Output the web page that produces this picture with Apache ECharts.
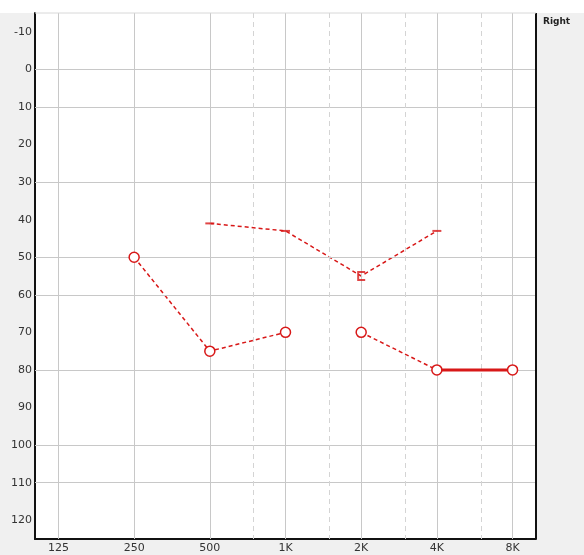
<!DOCTYPE html>
<html><head><meta charset="utf-8">
<script src="https://cdn.jsdelivr.net/npm/echarts@6/dist/echarts.min.js"></script>
<style>html,body{margin:0;padding:0;background:#fff}#c{width:584px;height:555px}</style>
</head><body><div id="c"></div>
<script>
const freqTicks = [125, 250, 500, 1000, 2000, 4000, 8000];
const freqTickLabels = ['125', '250', '500', '1K', '2K', '4K', '8K'];
const halfFreqs = [750, 1500, 3000, 6000];
const dbTicks = [-10, 0, 10, 20, 30, 40, 50, 60, 70, 80, 90, 100, 110, 120];
const dbGridLines = [0, 10, 30, 50, 60, 80, 100, 110];

const acFreq = [250, 500, 1000, 2000, 4000, 8000];
const acDb = [50, 75, 70, 70, 80, 80];
const bcFreq = [500, 1000, 2000, 4000];
const bcDb = [41, 43, 55, 43];
const earLabel = 'Right';

const oct = f => Math.log2(f / 125);
const RED = '#d81818';

const acPts = acFreq.map((f, i) => [oct(f), acDb[i]]);
const bcPts = bcFreq.map((f, i) => [oct(f), bcDb[i]]);
const acDashed = [acPts[0], acPts[1], acPts[2], '-', acPts[3], acPts[4]];
const acSolid = [acPts[4], acPts[5]];

const dash = 'path://M0,0 L10,0 L10,2 L0,2 Z';
const bracket = 'path://M0,0 L8,0 L8,2 L2,2 L2,8 L8,8 L8,10 L0,10 Z';
const bcSymbols = [dash, dash, bracket, dash];

const gridMark = {
  silent: true, symbol: 'none', label: { show: false }, animation: false,
  data: [].concat(
    dbGridLines.map(v => ({ yAxis: v, lineStyle: { color: '#c8c8c8', width: 1, type: 'solid' } })),
    freqTicks.map(f => ({ xAxis: oct(f), lineStyle: { color: '#c8c8c8', width: 1, type: 'solid' } })),
    halfFreqs.map(f => ({ xAxis: oct(f), lineStyle: { color: '#d4d4d4', width: 1, type: [5, 4] } }))
  )
};

const chart = echarts.init(document.getElementById('c'), null, { renderer: 'canvas' });
chart.setOption({
  animation: false,
  backgroundColor: '#ffffff',
  graphic: [
    { type: 'rect', z: -10, shape: { x: 0, y: 13, width: 584, height: 542 }, style: { fill: '#f0f0f0' } },
    { type: 'rect', z: -9, shape: { x: 35, y: 13, width: 501, height: 526 }, style: { fill: '#ffffff' } },
    { type: 'line', z: 10, shape: { x1: 536, y1: 13, x2: 536, y2: 539 }, style: { stroke: '#111', lineWidth: 2 } },
    { type: 'line', z: 10, shape: { x1: 35, y1: 13, x2: 536, y2: 13 }, style: { stroke: '#d8d8d8', lineWidth: 1 } },
    { type: 'text', left: 543, top: 17, style: { text: earLabel, font: 'bold 9px "DejaVu Sans"', fill: '#222' } }
  ],
  grid: { left: 35, top: 13, right: 48, bottom: 16, containLabel: false },
  xAxis: {
    type: 'value', min: -0.31, max: 6.31,
    axisLine: { show: true, onZero: false, lineStyle: { color: '#111', width: 2 } },
    axisTick: { show: false },
    splitLine: { show: false },
    axisLabel: {
      customValues: freqTicks.map(oct),
      formatter: v => freqTickLabels[Math.round(v)],
      color: '#333', fontSize: 11, margin: 4, fontFamily: 'DejaVu Sans'
    }
  },
  yAxis: {
    type: 'value', inverse: true, min: -15, max: 125,
    axisLine: { show: true, onZero: false, lineStyle: { color: '#111', width: 2 } },
    axisTick: { show: false },
    splitLine: { show: false },
    axisLabel: {
      customValues: dbTicks,
      color: '#333', fontSize: 11, margin: 3, fontFamily: 'DejaVu Sans'
    }
  },
  series: [
    { type: 'line', data: [], markLine: gridMark, z: 1 },
    {
      type: 'line', data: acDashed, connectNulls: false, showSymbol: false, z: 3,
      lineStyle: { color: RED, width: 1.5, type: [4, 3] }
    },
    {
      type: 'line', data: acSolid, showSymbol: false, z: 5,
      lineStyle: { color: RED, width: 3, type: 'solid', opacity: 1 }
    },
    {
      type: 'scatter', data: acPts, symbol: 'circle', symbolSize: 10, z: 6,
      itemStyle: { color: '#ffffff', borderColor: RED, borderWidth: 1.5, opacity: 1 }
    },
    {
      type: 'line', data: bcPts, showSymbol: false, z: 3,
      lineStyle: { color: RED, width: 1.5, type: [4, 3] }
    },
    {
      type: 'scatter', z: 6,
      data: bcPts.map((p, i) => ({ value: p, symbol: bcSymbols[i], symbolSize: i === 2 ? [8, 10] : [9, 2] })),
      itemStyle: { color: RED }
    }
  ]
});
</script></body></html>
